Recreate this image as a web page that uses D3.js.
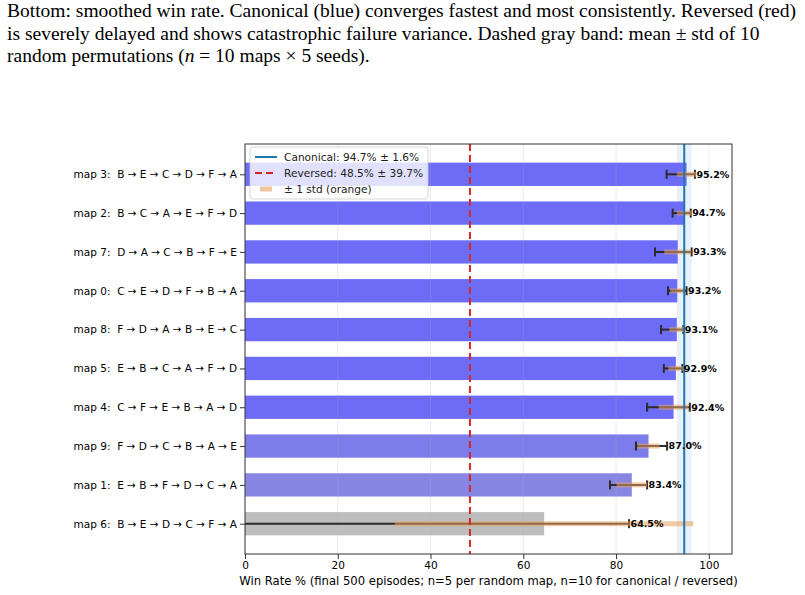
<!DOCTYPE html>
<html>
<head>
<meta charset="utf-8">
<script src="https://cdn.jsdelivr.net/npm/d3@7"></script>
<style>
  body { margin: 0; background: #fff; }
  svg { display: block; }
  .caption { font-family: "Liberation Serif", "Times New Roman", serif; font-size: 19.5px; fill: #000; }
  .axis text { font-family: "DejaVu Sans", sans-serif; font-size: 10.5px; fill: #000; }
  .axis path, .axis line { stroke: #000; stroke-width: 0.8; }
  .vlabel { font-family: "DejaVu Sans", sans-serif; font-size: 9.5px; font-weight: bold; }
  .legend text { font-family: "DejaVu Sans", sans-serif; font-size: 10.6px; fill: #222; }
</style>
</head>
<body>
<div id="chart"></div>
<script>
/* DATA */
const captionLines = [
  "Bottom: smoothed win rate. Canonical (blue) converges fastest and most consistently. Reversed (red)",
  "is severely delayed and shows catastrophic failure variance. Dashed gray band: mean \u00b1 std of 10",
  "random permutations (n = 10 maps \u00d7 5 seeds)."
];
const mapIds = ["map 3", "map 2", "map 7", "map 0", "map 8", "map 5", "map 4", "map 9", "map 1", "map 6"];
const orders = [
  "B \u2192 E \u2192 C \u2192 D \u2192 F \u2192 A",
  "B \u2192 C \u2192 A \u2192 E \u2192 F \u2192 D",
  "D \u2192 A \u2192 C \u2192 B \u2192 F \u2192 E",
  "C \u2192 E \u2192 D \u2192 F \u2192 B \u2192 A",
  "F \u2192 D \u2192 A \u2192 B \u2192 E \u2192 C",
  "E \u2192 B \u2192 C \u2192 A \u2192 F \u2192 D",
  "C \u2192 F \u2192 E \u2192 B \u2192 A \u2192 D",
  "F \u2192 D \u2192 C \u2192 B \u2192 A \u2192 E",
  "E \u2192 B \u2192 F \u2192 D \u2192 C \u2192 A",
  "B \u2192 E \u2192 D \u2192 C \u2192 F \u2192 A"
];
const winRates = [95.2, 94.7, 93.3, 93.2, 93.1, 92.9, 92.4, 87.0, 83.4, 64.5];
const winStd = [2.1, 1.6, 2.9, 1.5, 1.6, 1.6, 3.2, 2.4, 3.3, 32.2];
const rangeLo = [90.9, 92.2, 88.4, 91.2, 89.7, 90.3, 86.7, 84.3, 78.7, -10];
const rangeHi = [97.0, 96.1, 96.3, 95.2, 94.5, 94.3, 95.9, 91.0, 86.7, 82.8];
const canonical = { mean: 94.7, std: 1.6 };
const reversed = { mean: 48.5, std: 39.7 };
const xTicks = [0, 20, 40, 60, 80, 100];
const xLabel = "Win Rate % (final 500 episodes; n=5 per random map, n=10 for canonical / reversed)";

/* LAYOUT */
const width = 805, height = 595;
const plot = { left: 245, right: 732, top: 144, bottom: 554 };

const svg = d3.select("#chart").append("svg")
  .attr("width", width)
  .attr("height", height);

// caption text (serif, from the paper)
svg.append("g")
  .selectAll("text")
  .data(captionLines)
  .join("text")
  .attr("class", "caption")
  .attr("x", 7)
  .attr("y", (d, i) => 17 + i * 22.5)
  .each(function(d, i) {
    const t = d3.select(this);
    if (i === 2) {
      t.append("tspan").text("random permutations (");
      t.append("tspan").attr("font-style", "italic").text("n");
      t.append("tspan").text(" = 10 maps \u00d7 5 seeds).");
    } else {
      t.text(d);
    }
  });

/* SCALES */
const xScale = d3.scaleLinear().domain([0, 105]).range([plot.left, plot.right]);
const yScale = d3.scaleLinear().domain([-0.78, mapIds.length - 1 + 0.78]).range([plot.top, plot.bottom]);
const barH = yScale(0.6) - yScale(0);

const data = mapIds.map((id, i) => ({
  id, order: orders[i], rate: winRates[i], std: winStd[i], lo: rangeLo[i], hi: rangeHi[i], i
}));

// bar colour depends on how close a map gets to the canonical order
const blueScale = d3.scaleLinear().domain([83, 92]).range(["#8888e2", "#6c6cf6"]).clamp(true);
const barColor = d => d.rate < 70 ? "#bdbdbd" : blueScale(d.rate);

svg.append("defs").append("clipPath").attr("id", "clip")
  .append("rect")
  .attr("x", plot.left).attr("y", plot.top)
  .attr("width", plot.right - plot.left).attr("height", plot.bottom - plot.top);

const g = svg.append("g").attr("clip-path", "url(#clip)");

// canonical band
g.append("rect")
  .attr("x", xScale(canonical.mean - canonical.std))
  .attr("width", xScale(canonical.mean + canonical.std) - xScale(canonical.mean - canonical.std))
  .attr("y", plot.top).attr("height", plot.bottom - plot.top)
  .attr("fill", "#1f77b4").attr("opacity", 0.1);

// bars
g.selectAll(".bar")
  .data(data)
  .join("rect")
  .attr("class", "bar")
  .attr("x", xScale(0))
  .attr("y", d => yScale(d.i) - barH / 2)
  .attr("width", d => xScale(d.rate) - xScale(0))
  .attr("height", barH)
  .attr("fill", barColor);

// grid on top, faint
g.selectAll(".grid")
  .data(xTicks)
  .join("line")
  .attr("class", "grid")
  .attr("x1", d => xScale(d)).attr("x2", d => xScale(d))
  .attr("y1", plot.top).attr("y2", plot.bottom)
  .attr("stroke", "#b0b0b0").attr("stroke-width", 0.8).attr("opacity", 0.3);

// dark error bars
const eb = g.selectAll(".eb").data(data).join("g").attr("class", "eb")
  .attr("stroke", "#2b2b2b").attr("stroke-width", 2);
eb.append("line")
  .attr("x1", d => xScale(d.lo)).attr("x2", d => xScale(d.hi))
  .attr("y1", d => yScale(d.i)).attr("y2", d => yScale(d.i));
eb.append("line")
  .attr("x1", d => xScale(d.lo)).attr("x2", d => xScale(d.lo))
  .attr("y1", d => yScale(d.i) - 4.5).attr("y2", d => yScale(d.i) + 4.5);
eb.append("line")
  .attr("x1", d => xScale(d.hi)).attr("x2", d => xScale(d.hi))
  .attr("y1", d => yScale(d.i) - 4.5).attr("y2", d => yScale(d.i) + 4.5);

// orange +-1 std
g.selectAll(".std")
  .data(data)
  .join("line")
  .attr("class", "std")
  .attr("x1", d => xScale(d.rate - d.std)).attr("x2", d => xScale(d.rate + d.std))
  .attr("y1", d => yScale(d.i)).attr("y2", d => yScale(d.i))
  .attr("stroke", "#e8a060").attr("stroke-width", 5).attr("opacity", 0.55);

// reference lines
g.append("line")
  .attr("x1", xScale(reversed.mean)).attr("x2", xScale(reversed.mean))
  .attr("y1", plot.top).attr("y2", plot.bottom)
  .attr("stroke", "#d62728").attr("stroke-width", 2).attr("stroke-dasharray", "7,4");
g.append("line")
  .attr("x1", xScale(canonical.mean)).attr("x2", xScale(canonical.mean))
  .attr("y1", plot.top).attr("y2", plot.bottom)
  .attr("stroke", "#1f77b4").attr("stroke-width", 2);

// value labels
svg.selectAll(".vlabel")
  .data(data)
  .join("text")
  .attr("class", "vlabel")
  .attr("x", d => xScale(d.hi) + 1.5)
  .attr("y", d => yScale(d.i))
  .attr("dy", "0.35em")
  .text(d => d.rate.toFixed(1) + "%");

/* AXES */
svg.append("g")
  .attr("class", "axis x-axis")
  .attr("transform", `translate(0,${plot.bottom})`)
  .call(d3.axisBottom(xScale).tickValues(xTicks).tickSize(5).tickPadding(3))
  .call(ax => ax.select(".domain").remove());

svg.append("g")
  .attr("class", "axis y-axis")
  .attr("transform", `translate(${plot.left},0)`)
  .call(d3.axisLeft(yScale).tickValues(d3.range(mapIds.length))
    .tickFormat(i => `${mapIds[i]}:\u00a0\u00a0${orders[i]}`).tickSize(5).tickPadding(3))
  .call(ax => ax.select(".domain").remove());

// frame
svg.append("rect")
  .attr("x", plot.left).attr("y", plot.top)
  .attr("width", plot.right - plot.left).attr("height", plot.bottom - plot.top)
  .attr("fill", "none").attr("stroke", "#333").attr("stroke-width", 1);

svg.append("text")
  .attr("x", (plot.left + plot.right) / 2)
  .attr("y", 585)
  .attr("text-anchor", "middle")
  .style("font-family", "DejaVu Sans, sans-serif")
  .style("font-size", "11.6px")
  .text(xLabel);

/* LEGEND */
const legend = svg.append("g").attr("class", "legend").attr("transform", "translate(250,147)");
legend.append("rect")
  .attr("width", 178).attr("height", 52).attr("rx", 3)
  .attr("fill", "#fff").attr("fill-opacity", 0.8)
  .attr("stroke", "#ccc").attr("stroke-width", 0.8);
const legendItems = [
  { label: `Canonical: ${canonical.mean}% \u00b1 ${canonical.std}%`, color: "#1f77b4", w: 2, dash: null, op: 1 },
  { label: `Reversed: ${reversed.mean}% \u00b1 ${reversed.std}%`, color: "#d62728", w: 2, dash: "7,4", op: 1 },
  { label: "\u00b1 1 std (orange)", color: "#e8a060", w: 5, dash: null, op: 0.6, short: true }
];
const li = legend.selectAll(".li").data(legendItems).join("g").attr("class", "li")
  .attr("transform", (d, i) => `translate(0,${10 + i * 16})`);
li.append("line")
  .attr("x1", d => d.short ? 10 : 5).attr("x2", d => d.short ? 22 : 27)
  .attr("stroke", d => d.color).attr("stroke-width", d => d.w)
  .attr("stroke-dasharray", d => d.dash).attr("opacity", d => d.op);
li.append("text")
  .attr("x", 34).attr("dy", "0.35em")
  .text(d => d.label);
</script>
</body>
</html>
